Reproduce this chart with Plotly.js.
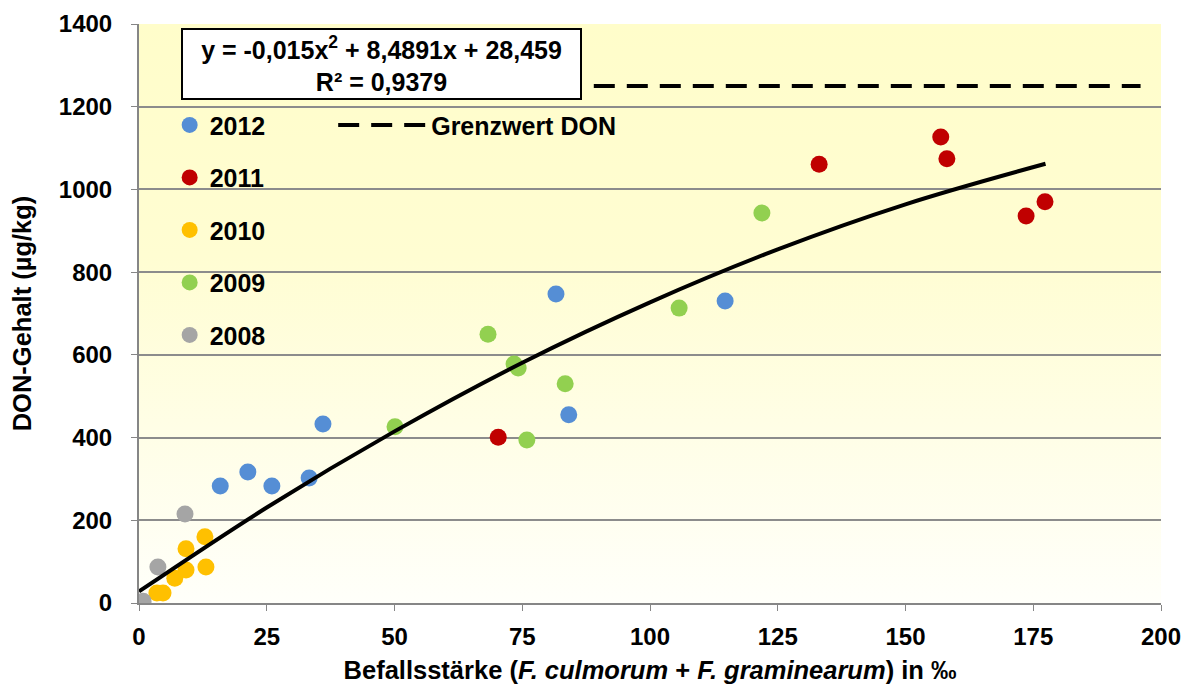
<!DOCTYPE html>
<html>
<head>
<meta charset="utf-8">
<script src="https://cdn.plot.ly/plotly-3.0.1.min.js"></script>
<style>html,body{margin:0;padding:0;background:#fff;}#chart{width:1194px;height:684px;}</style>
</head>
<body>
<div id="chart"></div>
<script>
// Data
const x2012 = [81.6, 114.7, 36.0, 84.1, 21.3, 15.9, 26.0, 33.3];
const y2012 = [747, 730, 433, 455, 317, 283, 283, 302];

const x2011 = [70.3, 133.1, 156.9, 158.1, 173.6, 177.3];
const y2011 = [401, 1061, 1127, 1074, 936, 970];

const x2010 = [12.9, 9.2, 13.1, 9.2, 7.0, 3.5, 4.7];
const y2010 = [160, 131, 87, 80, 60, 24, 24];

const x2009 = [68.3, 73.4, 74.2, 83.4, 75.9, 50.1, 105.7, 121.9];
const y2009 = [650, 578, 568, 530, 394, 426, 713, 943];

const x2008 = [9.0, 3.7, 0.2, 0.8];
const y2008 = [215, 87, 0, 4];

// Polynomial trendline values
const trendX = [0, 25, 50, 75, 100, 125, 150, 177.4];
const trendY = [28, 231, 415, 581, 727, 855, 964, 1062];

// Grenzwert DON (limit value)
const limitX = [89, 196];
const limitY = [1250, 1250];

const equationText = '<b>y = -0,015x<sup>2</sup> + 8,4891x + 28,459</b><br><b>R² = 0,9379</b>';

const FONT = 'Liberation Sans, Arial, sans-serif';
const colors = {'2012':'#558ED5', '2011':'#C00000', '2010':'#FFC000', '2009':'#92D050', '2008':'#A5A5A5'};

function pts(name, xs, ys) {
  return {
    type: 'scatter', mode: 'markers', name: '<b>' + name + '</b>', x: xs, y: ys,
    legendgroup: name,
    marker: {color: colors[name], size: 17, line: {width: 0}},
    hoverinfo: 'x+y'
  };
}

const traces = [
  pts('2012', x2012, y2012),
  pts('2011', x2011, y2011),
  pts('2010', x2010, y2010),
  pts('2009', x2009, y2009),
  pts('2008', x2008, y2008),
  {type:'scatter', mode:'lines', x: trendX, y: trendY, showlegend:false,
   line:{color:'#000', width:4, shape:'spline'}, hoverinfo:'skip'},
  {type:'scatter', mode:'lines', name:'<b>Grenzwert DON</b>', x: limitX, y: limitY,
   legend:'legend2', line:{color:'#000', width:4, dash:'21px,12px'}}
];

const grad = "<svg xmlns='http://www.w3.org/2000/svg' viewBox='0 0 100 100' preserveAspectRatio='none'>" +
  "<defs><linearGradient id='g' x1='0' y1='0' x2='0' y2='1'>" +
  "<stop offset='0' stop-color='#FFFDCA'/><stop offset='0.4' stop-color='#FFFDD2'/>" +
  "<stop offset='1' stop-color='#FFFFFA'/></linearGradient></defs>" +
  "<rect x='0' y='0' width='100' height='100' fill='url(#g)'/></svg>";

const TF = {family: FONT, size: 24, weight: 700, color: '#000'};

const layout = {
  width: 1194, height: 684,
  margin: {l: 139, r: 33, t: 24, b: 81},
  paper_bgcolor: '#ffffff',
  plot_bgcolor: 'rgba(0,0,0,0)',
  font: {family: FONT, size: 24, weight: 700, color: '#000'},
  images: [{
    source: 'data:image/svg+xml;charset=utf-8,' + encodeURIComponent(grad),
    xref: 'paper', yref: 'paper', x: 0, y: 1, sizex: 1, sizey: 1,
    xanchor: 'left', yanchor: 'top', sizing: 'stretch', layer: 'below'
  }],
  xaxis: {
    range: [0, 200], dtick: 25, tick0: 0,
    showgrid: false, zeroline: false,
    showline: true, linecolor: '#868686', linewidth: 2,
    ticks: 'outside', ticklen: 6, tickwidth: 1, tickcolor: '#868686',
    ticklabelstandoff: 5,
    tickfont: TF,
    title: {text: '<b>Befallsstärke (<i>F. culmorum</i> + <i>F. graminearum</i>) in ‰</b>',
            font: {family: FONT, size: 25.5, weight: 700, color: '#000'}, standoff: 12}
  },
  yaxis: {
    range: [0, 1400], dtick: 200, tick0: 0,
    showgrid: true, gridcolor: '#8C8C8C', gridwidth: 2,
    zeroline: false,
    showline: true, linecolor: '#868686', linewidth: 2,
    ticks: 'outside', ticklen: 6, tickwidth: 1, tickcolor: '#868686',
    ticklabelstandoff: 14,
    tickfont: TF,
    title: {text: '<b>DON-Gehalt (µg/kg)</b>',
            font: {family: FONT, size: 25.5, weight: 700, color: '#000'}, standoff: 20}
  },
  legend: {
    x: 0.030, y: 0.865, xanchor: 'left', yanchor: 'top',
    bgcolor: 'rgba(0,0,0,0)', borderwidth: 0,
    traceorder: 'grouped', tracegroupgap: 17,
    font: {family: FONT, size: 25, weight: 700, color: '#000'}
  },
  legend2: {
    x: 0.19, y: 0.865, xanchor: 'left', yanchor: 'top',
    bgcolor: 'rgba(0,0,0,0)', borderwidth: 0, itemwidth: 88,
    font: {family: FONT, size: 25, weight: 700, color: '#000'}
  },
  annotations: [{
    text: equationText, showarrow: false,
    xref: 'paper', yref: 'paper', x: 0.041, y: 0.993,
    xanchor: 'left', yanchor: 'top', align: 'center',
    width: 397, height: 68,
    bgcolor: '#ffffff', bordercolor: '#000', borderwidth: 2, borderpad: 0,
    font: {family: FONT, size: 25, weight: 700, color: '#000'}
  }]
};

Plotly.newPlot('chart', traces, layout, {displayModeBar: false, staticPlot: true});
</script>
</body>
</html>
